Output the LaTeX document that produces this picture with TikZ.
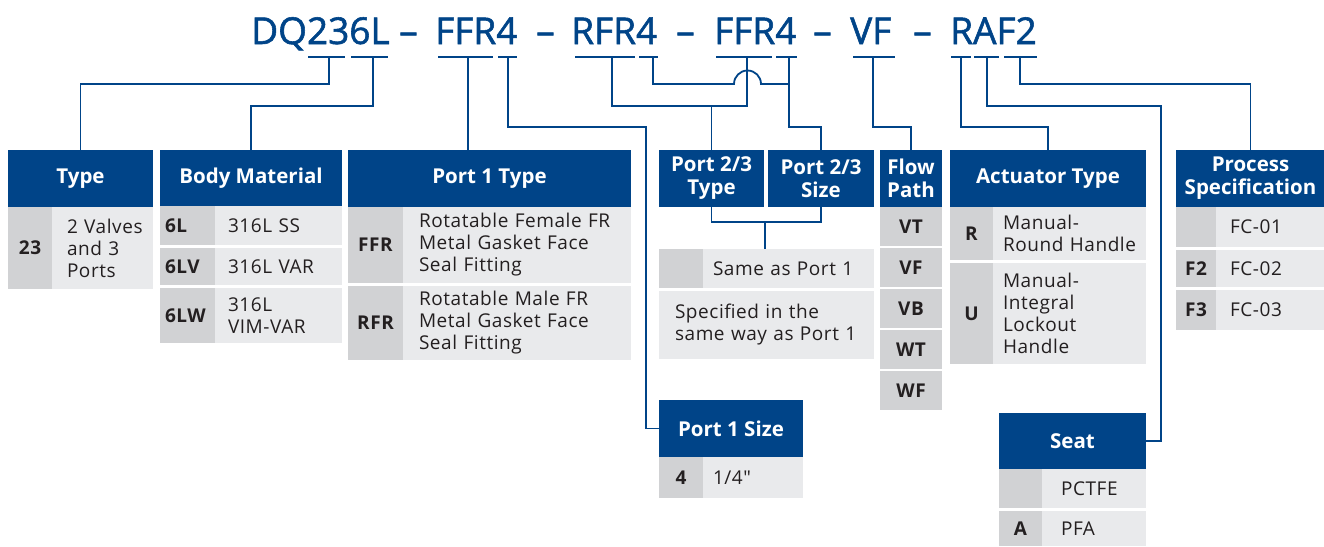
\documentclass[tikz,border=0pt]{standalone}
\usepackage{fontspec}
\setmainfont{Open Sans}
\newfontfamily\osans{Open Sans}[LetterSpace=3]
\newfontfamily\ohead{Open Sans}
\newfontfamily\ostitle{Open Sans}[FakeBold=1.5]
\newcommand{\hdrfont}{\ohead\bfseries\fontsize{20.5}{23}\selectfont}
\newcommand{\codefont}{\osans\bfseries\fontsize{19}{22}\selectfont}
\newcommand{\descfont}{\osans\fontsize{19}{22}\selectfont}
\newcommand{\titlefont}{\ostitle\fontsize{37}{40}\selectfont}
\definecolor{hblue}{RGB}{0,68,136}
\definecolor{cgray}{RGB}{209,210,212}
\definecolor{dgray}{RGB}{233,234,236}
\definecolor{tdark}{RGB}{35,31,32}

\begin{document}
\begin{tikzpicture}[x=1pt, y=-1pt,
  cell/.style={inner sep=0pt, outer sep=0pt, anchor=north west},
  hdr/.style={cell, fill=hblue, text=white, font=\hdrfont, align=center},
  code/.style={cell, fill=cgray, text=tdark, font=\codefont, align=center},
  desc/.style={cell, fill=dgray, text=tdark, font=\descfont, align=left},
  part/.style={inner sep=0pt, anchor=base west, text=hblue, font=\titlefont},
  uline/.style={hblue, line width=2.7pt},
  conn/.style={hblue, line width=1.8pt}]
\useasboundingbox (0,0) rectangle (1324,546);

% ordering code
\node[part] (dq) at (251,44) {DQ236L};
\node[part] (d1) at (399,44) {–};
\node[part] (p1) at (435,44) {FFR4};
\node[part] (d2) at (536,44) {–};
\node[part] (p2) at (571,44) {RFR4};
\node[part] (d3) at (676,44) {–};
\node[part] (p3) at (714,44) {FFR4};
\node[part] (d4) at (813,44) {–};
\node[part] (fp) at (850,44) {VF};
\node[part] (d5) at (913,44) {–};
\node[part] (ra) at (950,44) {RAF2};
\foreach \a/\b in {308/345, 351/388, 438/493, 498/517, 575/635, 639/658,
                   716/772, 776/797, 853/895, 951/971, 974/999, 1004/1037}
  \draw[uline] (\a,57) -- (\b,57);
\coordinate (s23) at (329,57);
\coordinate (s6l) at (373,57);
\coordinate (sffr) at (468,57);
\coordinate (s4a) at (508,57);
\coordinate (srfr) at (612,57);
\coordinate (s4b) at (653,57);
\coordinate (sffr2) at (747,57);
\coordinate (s4c) at (789,57);
\coordinate (svf) at (873,57);
\coordinate (sr) at (961,57);
\coordinate (sa) at (987,57);
\coordinate (sf2) at (1020,57);

% Type
\node[hdr, minimum width=145pt, minimum height=57pt] (type) at (8,150) {Type};
\node[code, minimum width=44pt, minimum height=82pt] (t23) at (8,207) {23};
\node[desc, minimum height=82pt, text width=71pt, inner xsep=15pt] (t23d) at (52,207) {2~Valves\\and~3\\Ports};

% Body Material
\node[hdr, minimum width=182pt, minimum height=56pt] (body) at (160,150) {Body Material};
\node[code, align=left, text width=45pt, inner xsep=5pt, minimum height=39pt] (b6l) at (160,206) {6L};
\node[desc, minimum height=39pt, text width=101pt, inner xsep=13pt] (b6ld) at (215,206) {316L~SS};
\node[code, align=left, text width=45pt, inner xsep=5pt, minimum height=37pt] (b6lv) at (160,248) {6LV};
\node[desc, minimum height=37pt, text width=101pt, inner xsep=13pt] (b6lvd) at (215,248) {316L~VAR};
\node[code, align=left, text width=45pt, inner xsep=5pt, minimum height=55pt] (b6lw) at (160,288) {6LW};
\node[desc, minimum height=55pt, text width=101pt, inner xsep=13pt] (b6lwd) at (215,288) {316L\\VIM-VAR};

% Port 1 Type
\node[hdr, minimum width=283pt, minimum height=57pt] (p1type) at (348,150) {Port 1 Type};
\node[code, minimum width=55pt, minimum height=76pt] (pffr) at (348,207) {FFR};
\node[desc, minimum height=76pt, text width=196pt, inner xsep=16pt] (pffrd) at (403,207) {Rotatable~Female~FR\\Metal~Gasket~Face\\Seal~Fitting};
\node[code, minimum width=55pt, minimum height=74pt] (prfr) at (348,286) {RFR};
\node[desc, minimum height=74pt, text width=196pt, inner xsep=16pt] (prfrd) at (403,286) {Rotatable~Male~FR\\Metal~Gasket~Face\\Seal~Fitting};

% Port 1 Size
\node[hdr, minimum width=144pt, minimum height=57pt] (p1size) at (659,400) {Port 1 Size};
\node[code, minimum width=44pt, minimum height=41pt] (s4) at (659,457) {4};
\node[desc, minimum height=41pt, text width=80pt, inner xsep=10pt] (s4d) at (703,457) {1/4"};

% Port 2/3
\node[hdr, minimum width=105pt, minimum height=57pt] (p23type) at (659,150) {Port 2/3\\Type};
\node[hdr, minimum width=106pt, minimum height=57pt] (p23size) at (768,150) {Port 2/3\\Size};
\node[code, minimum width=44pt, minimum height=39pt] (p23c) at (659,249) {};
\node[desc, minimum height=39pt, text width=151pt, inner xsep=10pt] (p23same) at (703,249) {Same~as~Port~1};
\node[desc, minimum height=68pt, text width=183pt, inner xsep=16pt] (p23spec) at (659,291) {Specified~in~the\\same~way~as~Port~1};

% Flow Path
\node[hdr, minimum width=62pt, minimum height=57pt] (flow) at (880,150) {Flow\\Path};
\foreach \c [count=\i from 0] in {VT,VF,VB,WT,WF}
  \node[code, minimum width=62pt, minimum height=39pt] (f\c) at (880,{207+41*\i}) {\c};

% Actuator Type
\node[hdr, minimum width=196pt, minimum height=57pt] (act) at (950,150) {Actuator Type};
\node[code, minimum width=43pt, minimum height=53pt] (ar) at (950,207) {R};
\node[desc, minimum height=53pt, text width=133pt, inner xsep=10pt] (ard) at (993,207) {Manual-\\Round~Handle};
\node[code, minimum width=43pt, minimum height=101pt] (au) at (950,263) {U};
\node[desc, minimum height=101pt, text width=133pt, inner xsep=10pt] (aud) at (993,263) {Manual-\\Integral\\Lockout\\Handle};

% Seat
\node[hdr, minimum width=147pt, minimum height=56pt] (seat) at (999,413) {Seat};
\node[code, minimum width=43pt, minimum height=39pt] (sp) at (999,469) {};
\node[desc, minimum height=39pt, text width=66pt, inner xsep=19pt] (spd) at (1042,469) {PCTFE};
\node[code, minimum width=43pt, minimum height=35pt] (sa2) at (999,511) {A};
\node[desc, minimum height=35pt, text width=66pt, inner xsep=19pt] (sa2d) at (1042,511) {PFA};

% Process Specification
\node[hdr, minimum width=149pt, minimum height=57pt] (proc) at (1176,150) {Process\\Specification};
\node[code, minimum width=40pt, minimum height=40pt] (pc1) at (1176,207) {};
\node[desc, minimum height=40pt, text width=81pt, inner xsep=14pt] (pc1d) at (1216,207) {FC-01};
\node[code, minimum width=40pt, minimum height=37pt] (pc2) at (1176,250) {F2};
\node[desc, minimum height=37pt, text width=81pt, inner xsep=14pt] (pc2d) at (1216,250) {FC-02};
\node[code, minimum width=40pt, minimum height=40pt] (pc3) at (1176,290) {F3};
\node[desc, minimum height=40pt, text width=81pt, inner xsep=14pt] (pc3d) at (1216,290) {FC-03};

% connectors
\draw[conn] (s23) -- ++(0,27) -| (type.north);
\draw[conn] (s6l) -- ++(0,49) -| (body.north);
\draw[conn] (sffr) -- (sffr |- p1type.north);
\draw[conn] (s4a) -- ++(0,70) -- ++(138,0) |- (p1size.west);
\draw[conn] (srfr) -- ++(0,49) -| (sffr2);
\draw[conn] (p23type.north) -- ++(0,-44);
\draw[conn] (s4b) -- ++(0,27) -- ++(81,0) arc[start angle=180, end angle=0, radius=13.5pt] -| (s4c);
\draw[conn] (s4c) -- ++(0,70) -| (p23size.north);
\draw[conn] (p23type.south) -- ++(0,15) -| (p23size.south);
\coordinate (jb) at (765,222);
\draw[conn] (jb) -- (jb |- p23same.north);
\draw[conn] (svf) -- ++(0,70) -| (flow.north);
\draw[conn] (sr) -- ++(0,70) -| (act.north);
\draw[conn] (sa) -- ++(0,49) -- ++(174,0) |- (seat.east);
\draw[conn] (sf2) -- ++(0,27) -| (proc.north);
\end{tikzpicture}
\end{document}
